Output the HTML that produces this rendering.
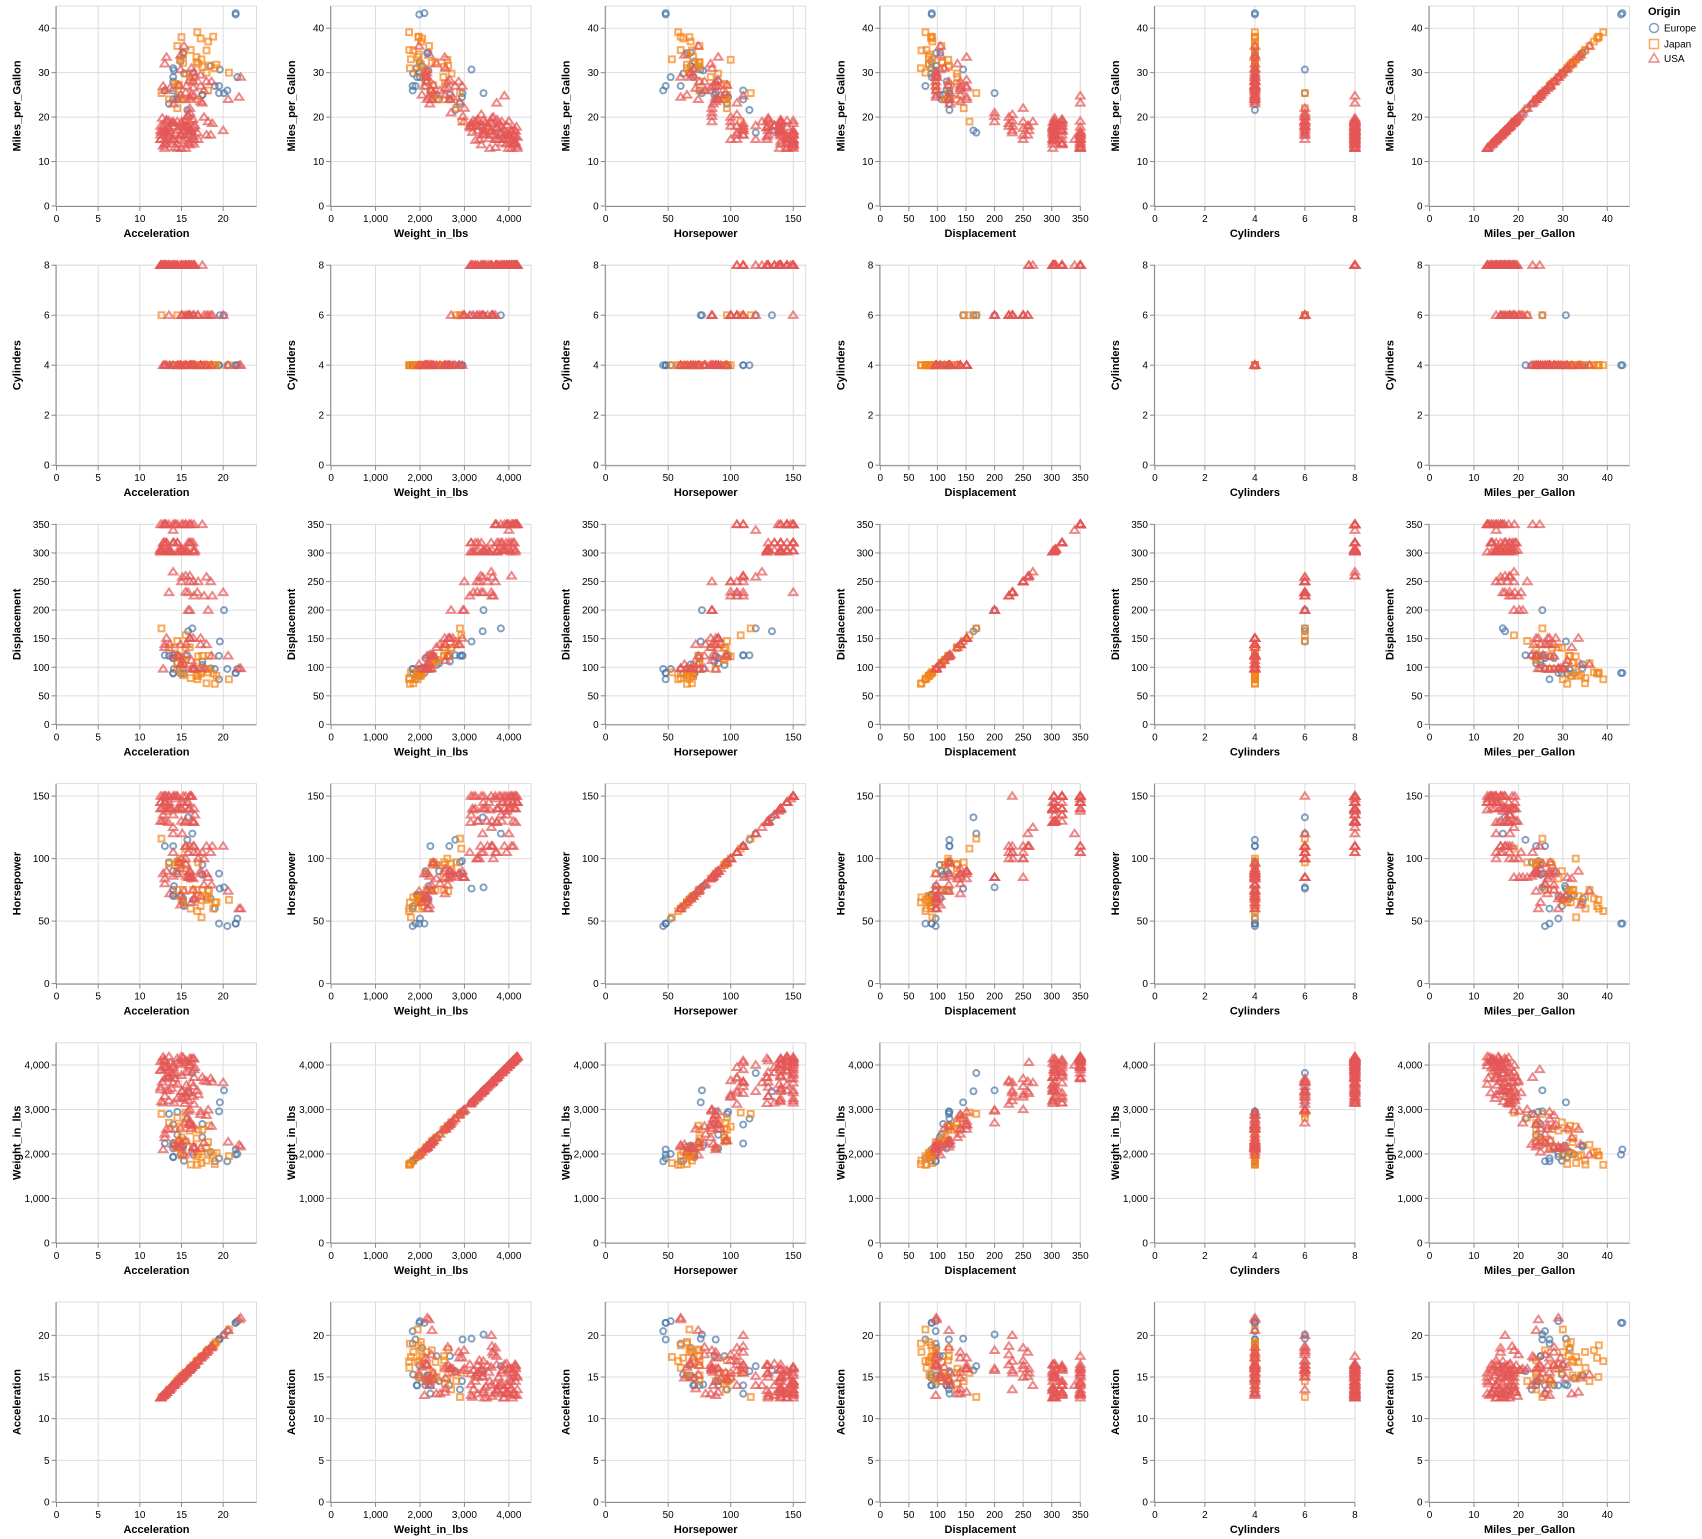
<!DOCTYPE html>
<html><head><meta charset="utf-8">
<style>
html,body{margin:0;padding:0;background:#fff;}
svg{display:block;font-family:"Liberation Sans",Arial,sans-serif;}
</style></head>
<body>
<svg id="chart" width="1702" height="1539" viewBox="0 0 1702 1539">
  <g id="plots"></g>
  <g id="legend">
    <text x="1648" y="15" font-size="11" font-weight="bold" fill="#000">Origin</text>
    <g>
      <circle cx="1654" cy="28" r="4.5" fill="none" stroke="#4c78a8" stroke-width="1.5" opacity="0.7"/>
      <text x="1664" y="31.5" font-size="10" fill="#000">Europe</text>
    </g>
    <g>
      <rect x="1649.5" y="39.5" width="9" height="9" fill="none" stroke="#f58518" stroke-width="1.5" opacity="0.7"/>
      <text x="1664" y="47.5" font-size="10" fill="#000">Japan</text>
    </g>
    <g>
      <path d="M1654,53.5 L1659,62 L1649,62 Z" fill="none" stroke="#e45756" stroke-width="1.5" opacity="0.7"/>
      <text x="1664" y="62" font-size="10" fill="#000">USA</text>
    </g>
  </g>
</svg>
<script>
// rows: [mpg, cyl, disp, hp, weight, accel]
const europe = [
[43.4,4,90,48,2100,21.5],[43.1,4,90,48,1985,21.5],[26,4,97,46,1835,20.5],[25,4,110,87,2672,17.5],
[24,4,107,90,2430,14.5],[25,4,104,95,2375,17.5],[26,4,121,110,2234,13],[27,4,97,60,1834,19],
[29,4,90,70,1937,14],[31,4,89,71,1925,14],[30,4,97,67,1985,16.4],[32.5,4,89,71,1990,14.9],
[29.8,4,89,62,1845,15.3],[30.5,4,97,78,2190,14.1],[34.4,4,98,65,2160,15.2],[31.5,4,98,68,2045,18.5],
[24,4,121,110,2660,14],[25.4,4,120,88,2957,19.5],[30.7,6,145,76,3160,19.6],[16.5,6,168,120,3820,16.3],
[17,6,163,133,3410,15.8],[25.4,6,200,77,3430,20.1],[21.6,4,121,115,2795,15.7],[28,4,116,90,2123,14],
[26,4,116,75,2246,14],[27,4,79,48,1900,19.5],[29,4,97,52,2000,21.7],[23,4,120,97,2900,13.5],
[24.5,4,121,98,2945,14.5],[34.5,4,105,68,2190,15.2]
];
const japan = [
[24,4,113,95,2372,15],[27,4,97,88,2130,14.5],[31,4,71,65,1773,19],[35,4,72,69,1850,18],
[24,4,113,95,2278,15.5],[30,4,79,67,1950,20.7],[39.1,4,79,58,1755,16.9],[38,4,91,67,1965,15],
[37.7,4,89,62,2050,17.3],[36,4,107,75,2205,14.5],[34.1,4,86,65,1975,15.2],[32,4,85,70,1990,17],
[31.6,4,120,74,2635,18.3],[33,4,91,53,1795,17.4],[32.4,4,108,75,2350,16.8],[29,4,135,84,2525,16],
[27.5,4,134,95,2560,14.2],[26,4,97,75,2265,18.2],[28,4,97,75,2155,16.4],[31.8,4,85,65,2020,19.2],
[38.1,4,89,60,1968,18.8],[32.9,4,119,100,2615,14.8],[31.3,4,120,75,2542,17.5],[29.8,4,134,90,2711,15.5],
[25,4,119,97,2300,14.7],[24,4,119,97,2545,17],[35.1,4,81,60,1760,16.1],[32.2,4,108,75,2265,15.2],
[24,4,134,96,2702,13.5],[19,6,156,108,2930,15.5],[25.4,6,168,116,2900,12.6],[22,6,146,97,2815,14.5],
[27.2,4,119,97,2300,14.7],[33.5,4,85,70,1945,16.8],[37,4,91,68,2025,18.2],[30,4,97,67,2145,18]
];
const usa = [
[18,8,307,130,3504,12.5],[15,8,350,150,3693,13],[16,8,304,150,3433,13.5],[17,8,302,140,3449,12.5],
[14,8,350,145,4100,13],[15,8,318,150,3777,14],[14,8,350,150,4150,14.5],[13,8,350,145,4190,15],
[19,8,305,130,3840,15.5],[16,8,318,150,4000,16],[15,8,302,129,3725,16.5],[17,8,305,140,3900,13.5],
[18,8,318,135,3830,14],[13,8,350,150,4060,15.5],[14,8,302,140,4140,16.5],[16,8,350,145,3955,13],
[17,8,318,150,4050,14.5],[15,8,350,145,4082,12.5],[18,8,260,110,3365,15.5],[19,8,267,125,3605,14],
[17,8,260,110,4060,16],[16,8,304,150,3892,12.5],[14,8,318,150,4096,13],[13,8,302,139,3570,14.5],
[15,8,305,145,3880,12.5],[17.5,8,302,140,3735,13.5],[15.5,8,350,145,4190,13.5],[16.5,8,350,138,3955,13.2],
[18.5,8,305,140,3770,15],[19.4,8,318,140,3735,13.2],[16.2,8,302,140,3410,15],[14.5,8,350,150,4140,16.2],
[17.7,8,302,129,3725,13.4],[18.1,8,302,139,3205,15.8],[19.2,8,305,145,3425,13.2],[17.6,8,302,129,3140,15.4],
[15,8,350,105,3950,14],[16,8,350,110,4100,15.5],[17,8,305,130,3300,13],[14,8,318,150,3940,13.2],
[13,8,350,145,3988,13],[16.9,8,350,140,4150,16],[19,8,318,140,3245,14.5],[23.2,8,350,105,3725,17.5],
[24.8,8,350,110,3900,16.5],[15,8,340,120,4000,14],[18,8,318,135,3150,12.8],[16,8,307,130,4100,15],
[13.5,8,350,150,4180,12.8],[14.2,8,318,145,3850,15.8],[15.8,8,305,140,4020,14.8],[16.8,8,318,150,3600,16.2],
[18.8,8,302,140,3480,13.8],[19.5,8,318,130,3300,16.4],[13.2,8,350,148,3700,14.2],[14.8,8,304,150,3250,15.2],
[17.2,8,318,140,4120,12.9],[18.2,8,305,135,3950,16.6],[15.2,8,302,145,3550,15.6],[16.4,8,350,150,3820,14.3],
[19.8,8,305,130,3620,12.7],[13.8,8,318,150,3380,16],[17.8,8,350,145,4170,15.2],[14.6,8,302,140,4050,13.7],
[18.6,8,318,150,3150,14.1],[15.6,8,305,129,4150,16.4],[16.6,8,302,140,3180,12.6],[19.1,8,350,140,4000,15.9],
[18,6,225,105,3121,16.5],[19,6,250,100,3282,15],[18,6,232,100,3288,15.5],[16,6,250,105,3697,18.5],
[17,6,231,110,3607,20],[20,6,225,100,3651,17.7],[19,6,200,85,2990,18.2],[20.2,6,200,85,2965,15.8],
[18.1,6,258,120,3410,15.1],[21,6,200,85,2700,16],[17.5,6,250,110,3520,16.4],[16.5,6,231,105,3425,16.9],
[20.6,6,231,105,3380,15.8],[15,6,250,100,3336,17],[16,6,258,110,3632,18],[18.6,6,225,110,3620,18.7],
[19.2,6,231,150,3200,13.5],[22,6,250,85,3000,16],
[23,4,122,86,2220,14],[27,4,140,86,2790,15.6],[28,4,97,75,2155,16.4],[25,4,140,92,2572,14.9],
[24,4,151,90,2670,16],[26.5,4,140,72,2565,13.6],[29,4,98,68,2135,16.6],[30,4,98,68,2155,16.5],
[27.2,4,119,97,2300,14.7],[28.4,4,151,90,2670,16],[31,4,112,85,2575,16.2],[34,4,105,63,2215,14.9],
[33.5,4,151,90,2556,13.2],[25.5,4,122,96,2300,15.5],[26,4,98,79,2255,17.7],[36,4,105,74,1980,15.3],
[32,4,135,84,2370,13],[24.5,4,151,88,2740,16],[29.5,4,98,70,2125,17.3],[27,4,151,90,2950,17.3],
[23.5,4,140,88,2890,17.3],[26.6,4,151,84,2635,16.4],[30.7,4,105,70,2150,14.9],[25,4,98,65,2045,16.2],
[28,4,120,79,2625,18.6],[24,4,120,88,2160,14.5],[29,4,98,60,2164,22.1],[24.5,4,98,60,2200,21.9],
[24,4,120,74,2270,20.6],[26,4,140,80,2450,13],[28,4,140,88,2870,18],[27,4,97,88,2100,12.8]
];
const fieldNames = ["Miles_per_Gallon","Cylinders","Displacement","Horsepower","Weight_in_lbs","Acceleration"];
const fieldMax = [45, 8, 350, 160, 4500, 24];
const ticksMpg = [0,10,20,30,40];
const ticksCyl = [0,2,4,6,8];
const ticksDisp = [0,50,100,150,200,250,300,350];
const ticksHp = [0,50,100,150];
const ticksWt = [0,1000,2000,3000,4000];
const ticksAcc = [0,5,10,15,20];
const rowFields = [0,1,2,3,4,5];
const colFields = [5,4,3,2,1,0];

const tickSets = [ticksMpg,ticksCyl,ticksDisp,ticksHp,ticksWt,ticksAcc];
const NS = "http://www.w3.org/2000/svg";
const W = 200, H = 200, X0 = 56.5, Y0 = 6, DX = 274.6, DY = 259.2;
const root = document.getElementById("plots");
function mk(tag, attrs, parent){
  const e = document.createElementNS(NS, tag);
  for (const k in attrs) e.setAttribute(k, attrs[k]);
  parent.appendChild(e); return e;
}
function fmt(v){ return v >= 1000 ? v.toLocaleString("en-US") : String(v); }
function slug(s){ return s.toLowerCase().replace(/_/g,"-"); }
const series = [
  {name:"europe", rows:europe, color:"#4c78a8", shape:"circle"},
  {name:"japan", rows:japan, color:"#f58518", shape:"square"},
  {name:"usa", rows:usa, color:"#e45756", shape:"triangle"}
];
rowFields.forEach((rf, ri) => {
  colFields.forEach((cf, ci) => {
    const L = X0 + ci*DX, T = Y0 + ri*DY;
    const sx = v => L + v / fieldMax[cf] * W;
    const sy = v => T + H - v / fieldMax[rf] * H;
    const g = mk("g", {}, root);
    
    
    mk("rect", {x:L, y:T, width:W, height:H, fill:"none", stroke:"#ddd"}, g);
    tickSets[cf].forEach(t => {
      const x = sx(t);
      mk("line", {x1:x, x2:x, y1:T, y2:T+H, stroke:"#ddd"}, g);
      mk("line", {x1:x, x2:x, y1:T+H, y2:T+H+5, stroke:"#888"}, g);
      const tx = mk("text", {x:x, y:T+H+16, "font-size":10, "text-anchor":"middle", fill:"#000"}, g);
      tx.textContent = fmt(t);
      
      
    });
    tickSets[rf].forEach(t => {
      const y = sy(t);
      mk("line", {x1:L, x2:L+W, y1:y, y2:y, stroke:"#ddd"}, g);
      mk("line", {x1:L-5, x2:L, y1:y, y2:y, stroke:"#888"}, g);
      const ty = mk("text", {x:L-7, y:y+3.5, "font-size":10, "text-anchor":"end", fill:"#000"}, g);
      ty.textContent = fmt(t);
      
      
    });
    mk("line", {x1:L, x2:L+W, y1:T+H+0.5, y2:T+H+0.5, stroke:"#888"}, g);
    mk("line", {x1:L-0.5, x2:L-0.5, y1:T, y2:T+H, stroke:"#888"}, g);
    const xt = mk("text", {x:L+W/2, y:T+H+31, "font-size":11, "font-weight":"bold", "text-anchor":"middle", fill:"#000"}, g);
    xt.textContent = fieldNames[cf];
    
    
    const yx = L-36, yy = T+H/2;
    const yt = mk("text", {x:yx, y:yy, "font-size":11, "font-weight":"bold", "text-anchor":"middle", fill:"#000", transform:"rotate(-90 "+yx+" "+yy+")"}, g);
    yt.textContent = fieldNames[rf];
    
    
    const mg = mk("g", {}, g);
    
    
    series.forEach(s => {
      s.rows.forEach(r => {
        const x = sx(r[cf]), y = sy(r[rf]);
        let p;
        if (s.shape === "circle") p = mk("circle", {cx:x, cy:y, r:3}, mg);
        else if (s.shape === "square") p = mk("rect", {x:x-2.9, y:y-2.9, width:5.8, height:5.8}, mg);
        else p = mk("path", {d:"M"+x+","+(y-3.8)+" L"+(x+4.3)+","+(y+2.7)+" L"+(x-4.3)+","+(y+2.7)+" Z"}, mg);
        p.setAttribute("fill","none");
        p.setAttribute("stroke", s.color);
        p.setAttribute("stroke-width","2");
        p.setAttribute("opacity","0.7");
        
        
      });
    });
  });
});
</script>
</body></html>
